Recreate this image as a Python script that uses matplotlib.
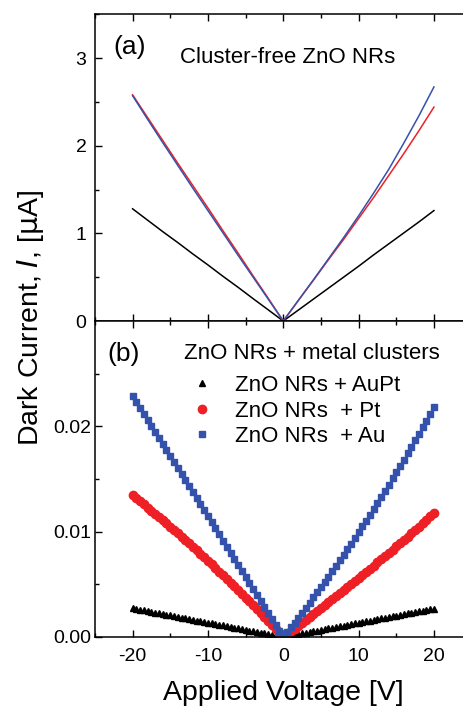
import numpy as np
import matplotlib
matplotlib.use("Agg")
import matplotlib.pyplot as plt
from matplotlib.ticker import MultipleLocator, FixedLocator, FormatStrFormatter

plt.rcParams['font.family'] = ['Liberation Sans', 'DejaVu Sans']
plt.rcParams['axes.unicode_minus'] = False

# (a) cluster-free ZnO NRs, current in uA, sampled every 2 V
v_top = [-20, -18, -16, -14, -12, -10, -8, -6, -4, -2, 0,
         2, 4, 6, 8, 10, 12, 14, 16, 18, 20]
i_top_black = [1.28, 1.15, 1.02, 0.895, 0.765, 0.64, 0.51, 0.385, 0.255, 0.128, 0.0,
               0.125, 0.25, 0.375, 0.50, 0.625, 0.755, 0.88, 1.005, 1.13, 1.26]
i_top_red = [2.58, 2.32, 2.06, 1.80, 1.545, 1.29, 1.03, 0.775, 0.515, 0.26, 0.0,
             0.235, 0.465, 0.70, 0.93, 1.17, 1.41, 1.66, 1.91, 2.17, 2.44]
i_top_blue = [2.57, 2.30, 2.035, 1.775, 1.515, 1.26, 1.005, 0.75, 0.50, 0.25, 0.0,
              0.235, 0.47, 0.71, 0.95, 1.20, 1.46, 1.73, 2.03, 2.34, 2.67]

# (b) with metal clusters, current in nA, sweep -20..20 V in 0.5 V steps
v_bot = np.linspace(-20, 20, 81)
i_auPt = [2.72, 2.65, 2.58, 2.52, 2.45, 2.38, 2.31, 2.24, 2.18, 2.11, 2.04, 1.97, 1.90, 1.84,
          1.77, 1.70, 1.63, 1.56, 1.50, 1.43, 1.36, 1.29, 1.22, 1.16, 1.09, 1.02, 0.95, 0.88,
          0.82, 0.75, 0.68, 0.61, 0.54, 0.48, 0.41, 0.34, 0.27, 0.20, 0.14, 0.07, 0.0,
          0.07, 0.135, 0.20, 0.27, 0.34, 0.40, 0.47, 0.54, 0.61, 0.68, 0.74, 0.81, 0.88, 0.95,
          1.01, 1.08, 1.15, 1.22, 1.28, 1.35, 1.42, 1.49, 1.55, 1.62, 1.69, 1.76, 1.82, 1.89,
          1.96, 2.03, 2.09, 2.16, 2.23, 2.30, 2.36, 2.43, 2.50, 2.57, 2.63, 2.70]
i_pt = [13.46, 13.17, 12.88, 12.59, 12.29, 12.00, 11.70, 11.39, 11.09, 10.78, 10.47, 10.16,
        9.84, 9.52, 9.20, 8.88, 8.56, 8.23, 7.90, 7.57, 7.23, 6.89, 6.55, 6.21, 5.86, 5.52,
        5.17, 4.81, 4.46, 4.10, 3.74, 3.38, 3.01, 2.64, 2.27, 1.90, 1.53, 1.15, 0.77, 0.39, 0.0,
        0.27, 0.53, 0.80, 1.07, 1.34, 1.62, 1.89, 2.17, 2.44, 2.72, 3.00, 3.28, 3.57, 3.85,
        4.14, 4.43, 4.71, 5.01, 5.30, 5.59, 5.88, 6.18, 6.48, 6.78, 7.08, 7.38, 7.68, 7.99,
        8.29, 8.60, 8.91, 9.22, 9.53, 9.85, 10.16, 10.48, 10.80, 11.12, 11.44, 11.76]
i_au = [22.90, 22.33, 21.76, 21.18, 20.61, 20.04, 19.47, 18.89, 18.32, 17.75, 17.18, 16.60,
        16.03, 15.46, 14.89, 14.31, 13.74, 13.17, 12.60, 12.02, 11.45, 10.88, 10.31, 9.73,
        9.16, 8.59, 8.02, 7.44, 6.87, 6.30, 5.73, 5.15, 4.58, 4.01, 3.44, 2.86, 2.29, 1.72,
        1.15, 0.57, 0.0,
        0.45, 0.91, 1.37, 1.84, 2.31, 2.79, 3.27, 3.75, 4.24, 4.74, 5.24, 5.74, 6.25, 6.77,
        7.28, 7.81, 8.34, 8.87, 9.41, 9.95, 10.50, 11.05, 11.61, 12.17, 12.73, 13.31, 13.88,
        14.46, 15.05, 15.64, 16.23, 16.83, 17.44, 18.05, 18.66, 19.28, 19.90, 20.53, 21.16,
        21.80]

blue = '#3452ac'
red = '#ee2026'

fig = plt.figure(figsize=(4.63, 7.09), dpi=100)
left, right = 0.205, 1.0186
ax1 = fig.add_axes([left, 0.5472, right - left, 0.980 - 0.5472])
ax2 = fig.add_axes([left, 0.1016, right - left, 0.5472 - 0.1016])

ax1.plot(v_top, i_top_black, color='black', lw=1.1)
ax1.plot(v_top, i_top_red, color=red, lw=1.1)
ax1.plot(v_top, i_top_blue, color=blue, lw=1.1)
ax1.set_ylim(0, 3.5)
ax1.yaxis.set_major_locator(MultipleLocator(1))
ax1.yaxis.set_minor_locator(MultipleLocator(0.5))
ax1.text(-22.5, 3.12, '(a)', fontsize=19, va='center')
ax1.text(-13.7, 3.01, 'Cluster-free ZnO NRs', fontsize=16, va='center')

i_auPt_uA = np.array(i_auPt) / 1000
i_pt_uA = np.array(i_pt) / 1000
i_au_uA = np.array(i_au) / 1000
ax2.plot(v_bot, i_auPt_uA, ls='none', marker='^', ms=5, color='black',
         label='ZnO NRs + AuPt')
ax2.plot(v_bot, i_pt_uA, ls='none', marker='o', ms=6, color=red, mec=red,
         label='ZnO NRs  + Pt')
ax2.plot(v_bot, i_au_uA, ls='none', marker='s', ms=4, color=blue, mec=blue,
         label='ZnO NRs  + Au')
ax2.set_ylim(0, 0.03)
ax2.yaxis.set_major_locator(FixedLocator([0.0, 0.01, 0.02]))
ax2.yaxis.set_minor_locator(FixedLocator([0.005, 0.015, 0.025]))
ax2.yaxis.set_major_formatter(FormatStrFormatter('%.2f'))
ax2.text(-23.3, 0.0269, '(b)', fontsize=19, va='center')
ax2.text(-13.2, 0.0269, 'ZnO NRs + metal clusters', fontsize=16, va='center')
ax2.legend(loc='upper left', bbox_to_anchor=(0.255, 0.829), frameon=False,
           fontsize=16, numpoints=1, handlelength=1.0, handletextpad=1.0,
           labelspacing=0.2, borderpad=0, borderaxespad=0)

for ax in (ax1, ax2):
    ax.set_xlim(-25, 25)
    ax.xaxis.set_major_locator(MultipleLocator(10))
    ax.xaxis.set_minor_locator(MultipleLocator(5))
    ax.tick_params(which='both', direction='in', top=True, right=True,
                   labelsize=14, width=1.0)
    ax.tick_params(which='major', length=5)
    ax.tick_params(which='minor', length=3)
    ax.tick_params(axis='x', pad=8)
    for s in ax.spines.values():
        s.set_linewidth(1.1)

ax1.tick_params(axis='y', pad=6)
ax2.tick_params(axis='y', pad=2.5)
ax1.tick_params(labelbottom=False)
ax2.set_xlabel('Applied Voltage [V]', fontsize=20.5, labelpad=11)
fig.text(0.065, 0.5515, 'Dark Current, $\\mathit{I}$, [$\\mathrm{\\mu}$A]', rotation=90,
         fontsize=20.5, ha='center', va='center')

fig.savefig('out.png', dpi=100)
